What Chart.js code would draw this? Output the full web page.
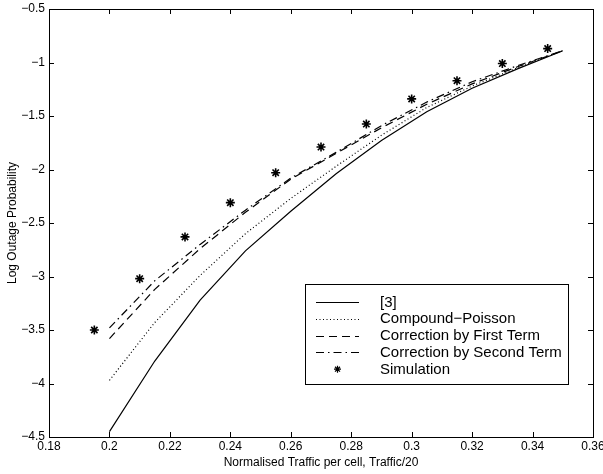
<!DOCTYPE html>
<html><head><meta charset="utf-8">
<script src="https://cdn.jsdelivr.net/npm/chart.js@4/dist/chart.umd.min.js"></script>
<style>html,body{margin:0;padding:0;background:#fff}</style>
</head><body>
<canvas id="c" width="603" height="474"></canvas>
<script>
// ---- data ----
const xCurve = [0.2, 0.215, 0.23, 0.245, 0.26, 0.275, 0.29, 0.305, 0.32, 0.335, 0.35];
const ref3 = [-4.45, -3.79, -3.22, -2.76, -2.39, -2.04, -1.73, -1.46, -1.24, -1.06, -0.89];
const compoundPoisson = [-3.97, -3.43, -2.99, -2.60, -2.27, -1.97, -1.68, -1.42, -1.22, -1.05, -0.89];
const firstTerm = [-3.58, -3.12, -2.74, -2.40, -2.09, -1.85, -1.61, -1.39, -1.20, -1.04, -0.89];
const secondTerm = [-3.48, -3.04, -2.70, -2.38, -2.08, -1.84, -1.59, -1.37, -1.18, -1.03, -0.89];
const xSim = [0.195, 0.21, 0.225, 0.24, 0.255, 0.27, 0.285, 0.30, 0.315, 0.33, 0.345];
const simulation = [-3.50, -3.02, -2.63, -2.31, -2.03, -1.79, -1.575, -1.34, -1.17, -1.01, -0.87];
const seriesLabels = ['[3]', 'Compound\u2212Poisson', 'Correction by First Term', 'Correction by Second Term', 'Simulation'];
const xTickStep = 0.02, yTickStep = 0.5;
const xTitle = 'Normalised Traffic per cell, Traffic/20';
const yTitle = 'Log Outage Probability';

const FONT = "'Liberation Sans', Arial, Helvetica, sans-serif";
const pts = (xs, ys) => xs.map((x, i) => ({x, y: ys[i]}));
const fmt = v => String(Number(Number(v).toFixed(3))).replace('-', '\u2212');

const lineDs = (label, ys, dash) => ({
  label, data: pts(xCurve, ys), borderColor: '#000', borderWidth: 1.2,
  borderDash: dash, pointRadius: 0, tension: 0, fill: false
});

const boxPlugin = {
  id: 'matlabBox',
  afterDraw(chart) {
    const ctx = chart.ctx, a = chart.chartArea;
    const xs = chart.scales.x, ys = chart.scales.y;
    ctx.save();
    ctx.strokeStyle = '#000'; ctx.lineWidth = 1; ctx.setLineDash([]);
    ctx.strokeRect(a.left + 0.5, a.top + 0.5, a.right - a.left, a.bottom - a.top);
    const tl = 5;
    ctx.beginPath();
    xs.ticks.forEach(t => {
      const p = Math.round(xs.getPixelForValue(t.value)) + 0.5;
      ctx.moveTo(p, a.bottom); ctx.lineTo(p, a.bottom - tl);
      ctx.moveTo(p, a.top); ctx.lineTo(p, a.top + tl);
    });
    ys.ticks.forEach(t => {
      const p = Math.round(ys.getPixelForValue(t.value)) + 0.5;
      ctx.moveTo(a.left, p); ctx.lineTo(a.left + tl, p);
      ctx.moveTo(a.right, p); ctx.lineTo(a.right - tl, p);
    });
    ctx.stroke();
    // legend
    const lx = 305.5, ly = 284.5, lw = 263, lh = 100;
    ctx.fillStyle = '#fff';
    ctx.fillRect(lx, ly, lw, lh);
    ctx.strokeRect(lx, ly, lw, lh);
    ctx.font = '15px ' + FONT;
    ctx.textBaseline = 'middle';
    ctx.textAlign = 'left';
    chart.data.datasets.forEach((ds, i) => {
      const y = 302 + i * 16.8;
      ctx.strokeStyle = '#000'; ctx.fillStyle = '#000';
      if (ds.showLine === false) {
        Chart.helpers.drawPoint(ctx, {pointStyle: ds.pointStyle, radius: 3.5, borderWidth: ds.borderWidth, rotation: 0}, 337.5, y);
      } else {
        ctx.lineWidth = ds.borderWidth;
        ctx.setLineDash(ds.borderDash || []);
        ctx.beginPath(); ctx.moveTo(316, Math.round(y) + 0.5); ctx.lineTo(359, Math.round(y) + 0.5); ctx.stroke();
        ctx.setLineDash([]);
      }
      ctx.fillStyle = '#000';
      ctx.fillText(ds.label, 380, y + 0.5);
    });
    ctx.restore();
  }
};

new Chart(document.getElementById('c'), {
  type: 'line',
  data: {
    datasets: [
      lineDs(seriesLabels[0], ref3, []),
      lineDs(seriesLabels[1], compoundPoisson, [1, 2.5]),
      lineDs(seriesLabels[2], firstTerm, [8, 5]),
      lineDs(seriesLabels[3], secondTerm, [8, 4, 1.5, 4]),
      {
        label: seriesLabels[4], data: pts(xSim, simulation), showLine: false,
        pointStyle: 'star', pointRadius: 4.5, borderWidth: 1.6,
        borderColor: '#000', backgroundColor: '#000'
      }
    ]
  },
  options: {
    responsive: false, animation: false, devicePixelRatio: 1,
    layout: {padding: {left: 0, right: 10, top: 9, bottom: 0}},
    plugins: {legend: {display: false}, tooltip: {enabled: false}},
    scales: {
      x: {
        type: 'linear', min: 0.18, max: 0.36,
        grid: {display: false, drawTicks: false}, border: {display: false},
        ticks: {stepSize: xTickStep, autoSkip: false, maxRotation: 0, padding: 2,
          color: '#000', font: {family: FONT, size: 12}, callback: v => fmt(v)},
        title: {display: true, text: xTitle, color: '#000', font: {family: FONT, size: 12}, padding: {top: 0, bottom: 4}},
        afterFit(s) { s.height = 37; s.paddingLeft = 0; s.paddingRight = 0; }
      },
      y: {
        type: 'linear', min: -4.5, max: -0.5,
        grid: {display: false, drawTicks: false}, border: {display: false},
        ticks: {stepSize: yTickStep, autoSkip: false, padding: 4,
          color: '#000', font: {family: FONT, size: 12}, callback: v => fmt(v)},
        title: {display: true, text: yTitle, color: '#000', font: {family: FONT, size: 12}, padding: {top: 5, bottom: 0}},
        afterFit(s) { s.width = 49; s.paddingTop = 0; s.paddingBottom = 0; }
      }
    }
  },
  plugins: [boxPlugin]
});
</script>
</body></html>
